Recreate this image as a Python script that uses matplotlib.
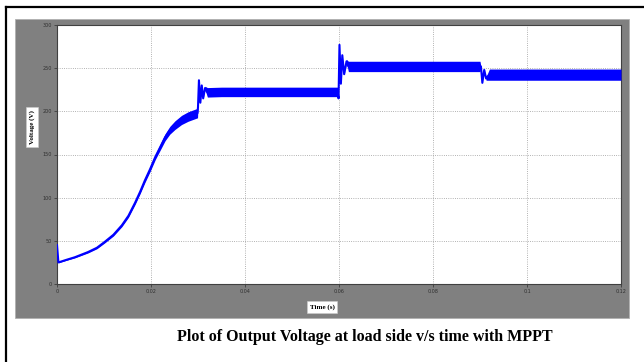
import numpy as np
import matplotlib
matplotlib.use('Agg')
import matplotlib.pyplot as plt
from matplotlib.patches import Rectangle
from matplotlib.lines import Line2D

# datos: tiempo (s), tension media (V), media anchura del rizado (V)
t_data = [0.0, 0.0003, 0.0020, 0.0038, 0.0066, 0.0085, 0.0102, 0.0120, 0.0138,
          0.0152, 0.0166, 0.0177, 0.0187, 0.0198, 0.0209, 0.0220, 0.0230,
          0.0240, 0.0251, 0.0265, 0.0279, 0.0299,
          0.0300, 0.0302, 0.0305, 0.0308, 0.0311, 0.0315, 0.0320,
          0.0350, 0.0450, 0.0597,
          0.0599, 0.0601, 0.0604, 0.0607, 0.0611, 0.0616, 0.0620,
          0.0700, 0.0800, 0.0900,
          0.0902, 0.0905, 0.0909, 0.0913, 0.0920,
          0.1000, 0.1100, 0.1200]
v_data = [45, 25, 28, 31, 37, 42, 49, 57, 68,
          79, 94, 107, 120, 133, 147, 159, 170,
          178, 184, 190, 194, 198,
          205, 236, 210, 230, 215, 227, 222,
          222.5, 222.5, 222.5,
          215, 277, 232, 265, 243, 258, 252,
          252, 252, 252,
          252, 233, 248, 238, 242.5,
          242.5, 242.5, 242.5]
ripple = [0, 0.5, 0.6, 0.7, 1.0, 1.1, 1.2, 1.4, 1.6,
          1.8, 2.0, 2.2, 2.5, 2.8, 3.0, 3.5, 4.0,
          4.5, 5.0, 5.3, 5.5, 5.5,
          0, 0, 0, 0, 0, 2, 5.5,
          5.5, 5.5, 5.5,
          0, 0, 0, 0, 0, 2, 6,
          6, 6, 6,
          0, 0, 0, 2, 6.5,
          6.5, 6.5, 6.5]

x_ticks = [0, 0.02, 0.04, 0.06, 0.08, 0.1, 0.12]
x_tick_labels = ['0', '0.02', '0.04', '0.06', '0.08', '0.1', '0.12']
y_ticks = [0, 50, 100, 150, 200, 250, 300]

caption = 'Plot of Output Voltage at load side v/s time with MPPT'

W, H = 644, 362
fig = plt.figure(figsize=(W / 100, H / 100), dpi=100)
fig.patch.set_facecolor('white')

# marco negro exterior
fig.add_artist(Line2D([6 / W, 6 / W], [0, 1 - 7 / H], color='black', lw=1.6))
fig.add_artist(Line2D([6 / W, 1], [1 - 7 / H, 1 - 7 / H], color='black', lw=1.6))

# panel gris de la ventana
fig.add_artist(Rectangle((15 / W, 1 - 318 / H), (629 - 15) / W, (318 - 19) / H,
                         transform=fig.transFigure, facecolor='#808080',
                         edgecolor='#b0b0b0', lw=0.6, zorder=0))

ax = fig.add_axes([57 / W, 1 - 284 / H, (621 - 57) / W, (284 - 25) / H])
ax.set_facecolor('white')

t = np.array(t_data)
v = np.array(v_data)
r = np.array(ripple)
ax.fill_between(t, v - r, v + r, color='#0000ff', lw=0, zorder=3)
ax.plot(t, v, color='#0000ff', lw=1.5, zorder=4)

ax.set_xlim(0, 0.12)
ax.set_ylim(0, 300)
ax.set_xticks(x_ticks)
ax.set_xticklabels(x_tick_labels)
ax.set_yticks(y_ticks)
ax.grid(True, linestyle=':', color='#999999', lw=0.6)
ax.tick_params(labelsize=3.5, labelcolor='#303030', length=2, width=0.5,
               color='#303030', pad=1.5)
for s in ax.spines.values():
    s.set_color('#404040')
    s.set_linewidth(0.8)

# etiquetas de ejes en caja blanca
box = dict(facecolor='white', edgecolor='#cccccc', lw=0.4, pad=2)
fig.text(32 / W, 1 - 127 / H, 'Voltage (V)', rotation=90, ha='center', va='center',
         family='Liberation Serif', fontweight='bold', fontsize=5, bbox=box)
fig.text(322 / W, 1 - 307 / H, 'Time (s)', ha='center', va='center',
         family='Liberation Serif', fontweight='bold', fontsize=5, bbox=box)

fig.text(365 / W, 1 - 337 / H, caption, ha='center', va='center',
         family='Liberation Serif', fontweight='bold', fontsize=11.5)

fig.savefig('out.png', dpi=100)
